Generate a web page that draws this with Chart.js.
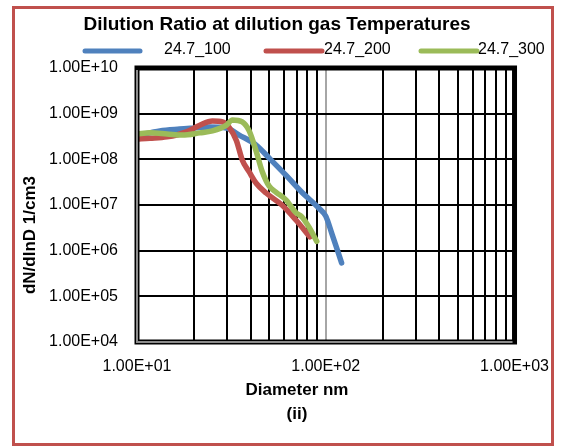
<!DOCTYPE html>
<html>
<head>
<meta charset="utf-8">
<script src="https://cdn.jsdelivr.net/npm/chart.js@4/dist/chart.umd.min.js"></script>
<style>
  html, body { margin: 0; padding: 0; background: #fff; }
  #wrap { width: 564px; height: 446px; }
</style>
</head>
<body>
<div id="wrap"><canvas id="grafico"></canvas></div>
<script>
// datos
const diam100 = [10, 11.7, 13.2, 16.8, 20.2, 24.2, 29.8, 34.8, 42.8, 50.1, 61.5, 74.7, 91.8, 100, 107.6, 121.3];
const vals100 = [3.4e8, 3.8e8, 4.2e8, 4.6e8, 4.85e8, 5.1e8, 4.85e8, 3.4e8, 2.05e8, 1.07e8, 4.5e7, 1.9e7, 8.6e6, 5.7e6, 2.4e6, 5.4e5];

const diam200 = [10, 11.7, 14.4, 18.3, 21.5, 25.1, 28.4, 30.9, 33.6, 36.1, 39.3, 42.8, 48.3, 58.6, 69.5, 82.4];
const vals200 = [2.8e8, 2.9e8, 3.1e8, 4.0e8, 5.6e8, 6.9e8, 6.6e8, 4.9e8, 2.6e8, 9.7e7, 5.3e7, 3.0e7, 1.83e7, 1.0e7, 4.7e6, 2.0e6];

const diam300 = [10, 11.7, 14.4, 17.4, 21.5, 25.1, 29.8, 32.0, 36.1, 39.3, 42.8, 46.0, 50.1, 54.6, 61.5, 69.5, 74.7, 81.4, 89.6];
const vals300 = [3.6e8, 3.8e8, 3.6e8, 3.4e8, 3.8e8, 4.2e8, 5.6e8, 7.3e8, 6.6e8, 4.2e8, 1.5e8, 5.5e7, 2.6e7, 1.9e7, 1.3e7, 6.8e6, 5.5e6, 3.3e6, 1.6e6];

const series = ["24.7_100", "24.7_200", "24.7_300"];
const colores = ["#4F81BD", "#C0504D", "#9BBB59"];

const xTicks = [10, 20, 30, 40, 50, 60, 70, 80, 90, 100, 200, 300, 400, 500, 600, 700, 800, 900, 1000];
const yTicks = [1e4, 1e5, 1e6, 1e7, 1e8, 1e9, 1e10];

const titulo = "Dilution Ratio at dilution gas Temperatures";
const tituloX = ["Diameter nm", "(ii)"];
const tituloY = "dN/dlnD 1/cm3";

const FUENTE = "'Liberation Sans', Arial, sans-serif";

function puntos(xs, ys) {
  return xs.map((x, i) => ({ x: x, y: ys[i] }));
}

function formatoExp(v) {
  const e = Math.round(Math.log10(v));
  if (Math.abs(Math.log10(v) - e) > 1e-6) return "";
  return "1.00E" + (e < 0 ? "-" : "+") + String(Math.abs(e)).padStart(2, "0");
}

// marco, titulos y leyenda al estilo Excel
const decorado = {
  id: "decorado",
  beforeDraw(chart) {
    const ctx = chart.ctx;
    ctx.save();
    ctx.fillStyle = "#fff";
    ctx.fillRect(0, 0, chart.width, chart.height);
    ctx.strokeStyle = "#C0504D";
    ctx.lineWidth = 3;
    ctx.strokeRect(13.5, 7.5, 539, 437);
    ctx.restore();
  },
  afterDraw(chart) {
    const ctx = chart.ctx;
    const a = chart.chartArea;
    ctx.save();
    // borde del area de trazado
    ctx.strokeStyle = "#000";
    ctx.lineWidth = 5;
    ctx.strokeRect(a.left, a.top, a.right - a.left, a.bottom - a.top);
    ctx.strokeStyle = "#8c8c8c";
    ctx.lineWidth = 2;
    ctx.beginPath();
    ctx.moveTo(a.left, a.top + 2);
    ctx.lineTo(a.left, a.bottom);
    ctx.lineTo(a.right - 2, a.bottom);
    ctx.stroke();

    // titulo
    ctx.fillStyle = "#000";
    ctx.textAlign = "center";
    ctx.textBaseline = "middle";
    ctx.font = "bold 19px " + FUENTE;
    ctx.fillText(titulo, 277, 25);

    // leyenda
    const leyenda = [
      { x1: 85, x2: 140, tx: 164 },
      { x1: 266, x2: 322, tx: 324 },
      { x1: 421, x2: 477, tx: 478 }
    ];
    ctx.font = "16px " + FUENTE;
    ctx.textAlign = "left";
    ctx.lineCap = "round";
    leyenda.forEach((l, i) => {
      ctx.strokeStyle = colores[i];
      ctx.lineWidth = 5;
      ctx.beginPath();
      ctx.moveTo(l.x1, 51);
      ctx.lineTo(l.x2, 51);
      ctx.stroke();
      ctx.fillStyle = "#000";
      ctx.fillText(series[i], l.tx, 50);
    });

    // titulos de ejes
    ctx.textAlign = "center";
    ctx.font = "bold 17px " + FUENTE;
    ctx.fillText(tituloX[0], 297, 390);
    ctx.fillText(tituloX[1], 297, 414);
    ctx.translate(30, 235);
    ctx.rotate(-Math.PI / 2);
    ctx.font = "bold 17px " + FUENTE;
    ctx.fillText(tituloY, 0, 0);
    ctx.restore();
  }
};

const ctx = document.getElementById("grafico").getContext("2d");

new Chart(ctx, {
  type: "line",
  data: {
    datasets: [
      { label: series[0], data: puntos(diam100, vals100), borderColor: colores[0], order: 3 },
      { label: series[1], data: puntos(diam200, vals200), borderColor: colores[1], order: 2 },
      { label: series[2], data: puntos(diam300, vals300), borderColor: colores[2], order: 1 }
    ]
  },
  options: {
    responsive: true,
    maintainAspectRatio: false,
    animation: false,
    layout: { padding: { top: 68, right: 48, bottom: 0, left: 0 } },
    elements: {
      line: { borderWidth: 5.5, cubicInterpolationMode: "monotone", borderCapStyle: "round", borderJoinStyle: "round" },
      point: { radius: 0 }
    },
    plugins: {
      legend: { display: false },
      title: { display: false },
      tooltip: { enabled: false }
    },
    scales: {
      x: {
        type: "logarithmic",
        min: 10,
        max: 1000,
        afterBuildTicks: s => { s.ticks = xTicks.map(v => ({ value: v })); },
        afterFit: s => { s.height = 104; },
        grid: {
          drawTicks: false,
          lineWidth: 2,
          color: c => (c.tick && formatoExp(c.tick.value) === "1.00E+02") ? "#a6a6a6" : "#000"
        },
        border: { display: false },
        ticks: {
          autoSkip: false,
          maxRotation: 0,
          padding: 15,
          color: "#000",
          font: { family: FUENTE, size: 16 },
          callback: v => formatoExp(v)
        }
      },
      y: {
        type: "logarithmic",
        min: 1e4,
        max: 1e10,
        afterBuildTicks: s => { s.ticks = yTicks.map(v => ({ value: v })); },
        afterFit: s => { s.width = 137; },
        grid: { drawTicks: false, lineWidth: 2, color: "#000" },
        border: { display: false },
        ticks: {
          padding: 19,
          color: "#000",
          font: { family: FUENTE, size: 16 },
          callback: v => formatoExp(v)
        }
      }
    }
  },
  plugins: [decorado]
});
</script>
</body>
</html>
